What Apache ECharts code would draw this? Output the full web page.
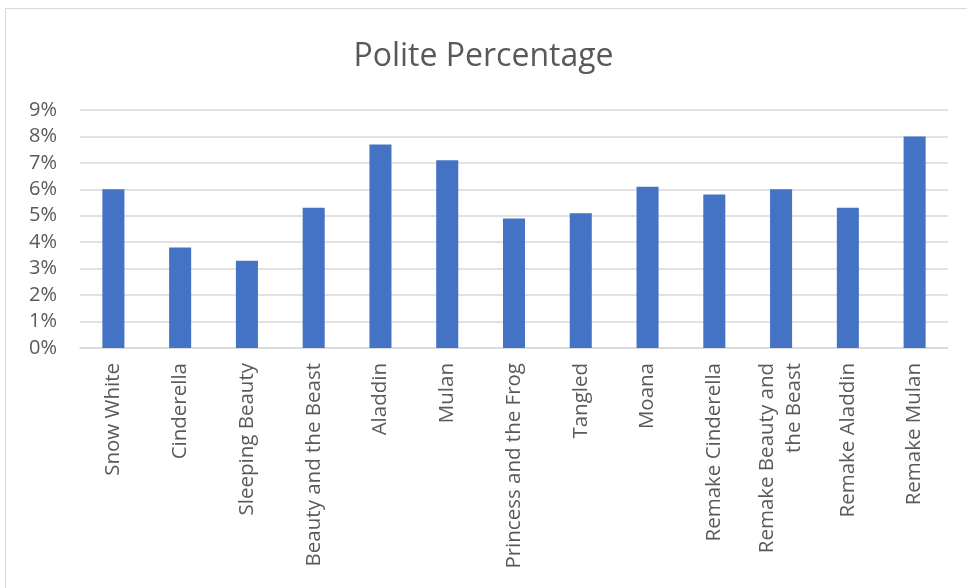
<!DOCTYPE html>
<html>
<head>
<meta charset="utf-8">
<script src="https://cdn.jsdelivr.net/npm/echarts@6/dist/echarts.min.js"></script>
<style>
  html, body { margin: 0; padding: 0; background: #fff; }
  #chart { width: 967px; height: 588px; }
</style>
</head>
<body>
<div id="chart"></div>
<script>
const movies = [
  'Snow White', 'Cinderella', 'Sleeping Beauty', 'Beauty and the Beast',
  'Aladdin', 'Mulan', 'Princess and the Frog', 'Tangled', 'Moana',
  'Remake Cinderella', 'Remake Beauty and the Beast', 'Remake Aladdin', 'Remake Mulan'
];
// polite share, in percent
const politePct = [6.0, 3.8, 3.3, 5.3, 7.7, 7.1, 4.9, 5.1, 6.1, 5.8, 6.0, 5.3, 8.0];

const chart = echarts.init(document.getElementById('chart'));
chart.setOption({
  animation: false,
  textStyle: { fontFamily: '"Open Sans", sans-serif' },
  graphic: [{
    type: 'rect',
    shape: { x: 5.5, y: 8.5, width: 1000, height: 700 },
    style: { fill: 'none', stroke: '#d9d9d9', lineWidth: 1 },
    silent: true
  }],
  title: {
    text: 'Polite Percentage',
    left: 'center',
    top: 36,
    textStyle: { fontSize: 32, fontWeight: 'normal', color: '#595959', fontFamily: '"Open Sans", sans-serif' }
  },
  grid: { left: 80, right: 19, top: 110, bottom: 240 },
  xAxis: {
    type: 'category',
    data: movies,
    axisLine: { lineStyle: { color: '#d9d9d9', width: 1.5 } },
    axisTick: { show: false },
    axisLabel: {
      rotate: 90,
      interval: 0,
      margin: 15,
      fontSize: 20.5,
      color: '#595959',
      align: 'right',
      lineHeight: 27,
      formatter: v => v === 'Remake Beauty and the Beast' ? 'Remake Beauty and\nthe Beast' : v
    }
  },
  yAxis: {
    type: 'value',
    min: 0,
    max: 9,
    interval: 1,
    axisLine: { show: false },
    axisTick: { show: false },
    splitLine: { lineStyle: { color: '#d9d9d9', width: 1.5 } },
    axisLabel: { formatter: '{value}%', fontSize: 20, color: '#595959', margin: 23 }
  },
  series: [{
    type: 'bar',
    data: politePct,
    barWidth: '33%',
    itemStyle: { color: '#4472c4' }
  }]
});
</script>
</body>
</html>
